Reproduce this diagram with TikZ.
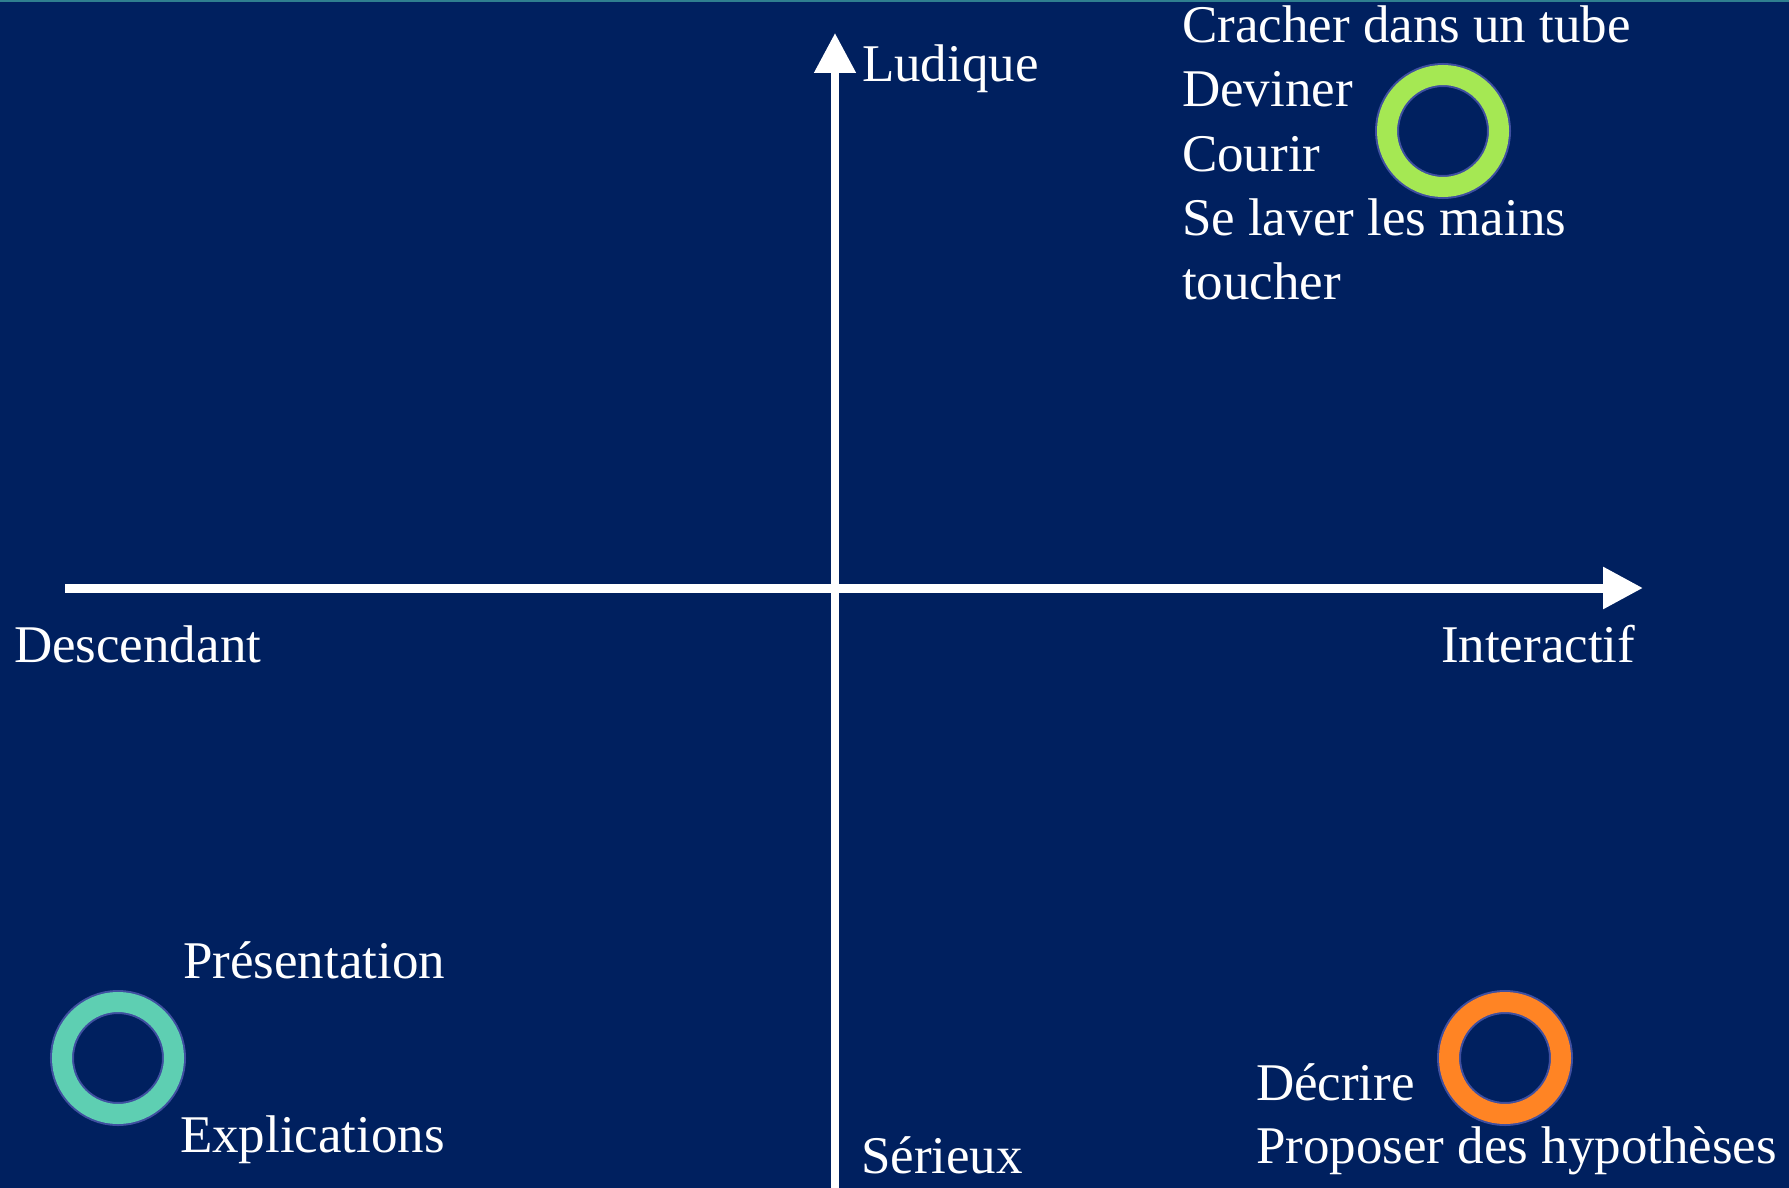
\documentclass[tikz,border=0pt]{standalone}
\usepackage{fontspec}
\setmainfont{Liberation Serif}
\usetikzlibrary{arrows.meta}
\definecolor{bgnavy}{HTML}{00205F}
\definecolor{topline}{HTML}{2F7F8F}
\definecolor{ringedge}{HTML}{3F4FA0}
\definecolor{ringgreen}{HTML}{A5E853}
\definecolor{ringteal}{HTML}{5ECFB2}
\definecolor{ringorange}{HTML}{FF8424}
\tikzset{
  lbl/.style={anchor=base west, inner sep=0pt, outer sep=0pt, text=white,
    font=\fontsize{26.5pt}{32pt}\selectfont},
  ring/.style={circle, inner sep=0pt, minimum size=56pt, draw=ringedge,
    line width=1pt, double=#1, double distance=10pt},
  axis/.style={draw=white, -{Triangle[length=20pt,width=20pt]}},
}
\begin{document}
\begin{tikzpicture}[x=0.5pt,y=-0.5pt]
\fill[bgnavy] (0,0) rectangle (1789,1188);
\useasboundingbox (0,0) rectangle (1789,1188);
\fill[topline] (0,0) rectangle (1789,2);
% axes
\coordinate (hl) at (65,588);
\coordinate (hr) at (1643,588);
\coordinate (vb) at (835,1188);
\coordinate (vt) at (835,33);
\draw[axis, line width=4.5pt] (hl) -- (hr);
\draw[axis, line width=4pt] (vb) -- (vt);
% axis labels
\node[lbl] (lud) at (862,82) {Ludique};
\node[lbl] (ser) at (861,1173) {Sérieux};
\node[lbl] (desc) at (14,662) {Descendant};
\node[lbl] (inter) at (1441,662) {Interactif};
% rings
\node[ring=ringgreen] (rg) at (1443,131) {};
\node[ring=ringteal] (rt) at (118,1058) {};
\node[ring=ringorange] (ro) at (1505,1058) {};
% top-right list
\node[lbl] (t1) at (1182,43) {Cracher dans un tube};
\node[lbl] (t2) at (1182,107) {Deviner};
\node[lbl] (t3) at (1182,171) {Courir};
\node[lbl] (t4) at (1182,235) {Se laver les mains};
\node[lbl] (t5) at (1182,299) {toucher};
% bottom-left
\node[lbl] (b1) at (183,978) {Présentation};
\node[lbl] (b2) at (180,1152) {Explications};
% bottom-right
\node[lbl] (r1) at (1256,1100) {Décrire};
\node[lbl] (r2) at (1256,1163) {Proposer des hypothèses};
\end{tikzpicture}
\end{document}
